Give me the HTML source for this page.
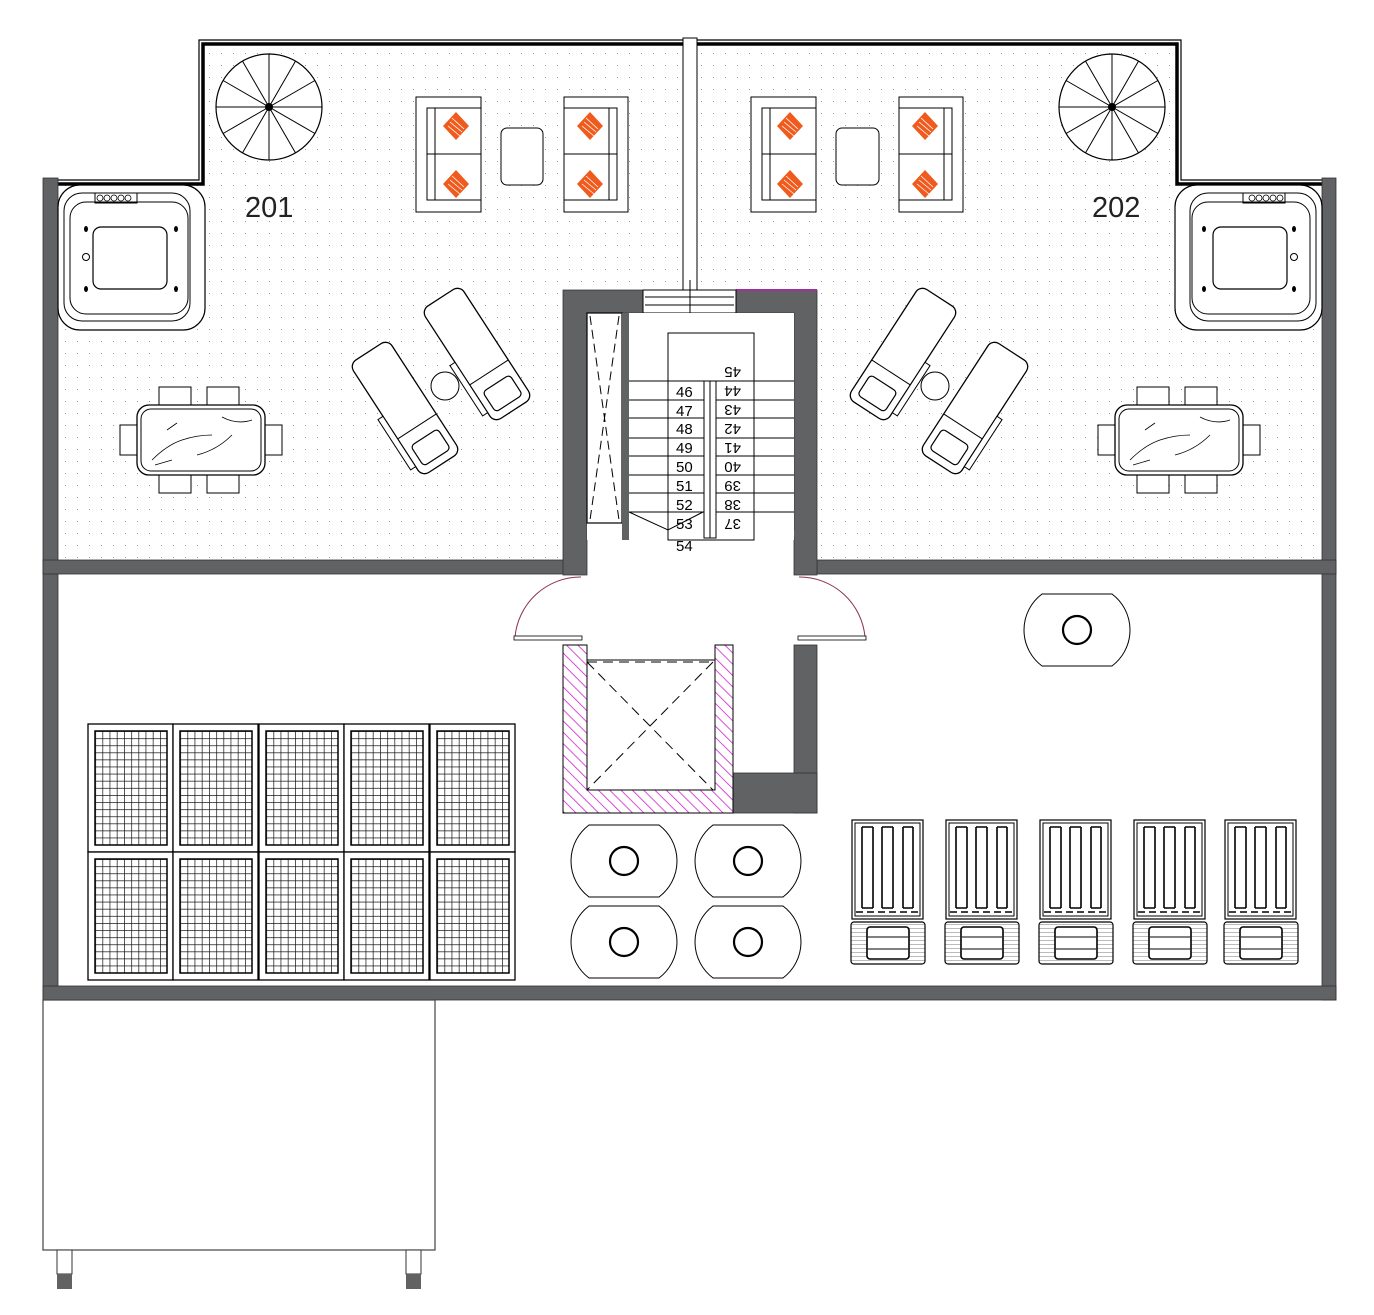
<!DOCTYPE html>
<html><head><meta charset="utf-8"><style>html,body{margin:0;padding:0;background:#fff}svg{display:block}</style></head>
<body>
<svg width="1374" height="1315" viewBox="0 0 1374 1315" xmlns="http://www.w3.org/2000/svg" font-family="Liberation Sans, sans-serif">
<defs>
<pattern id="dots" width="12" height="12" patternUnits="userSpaceOnUse"><rect x="5" y="5" width="1" height="1" fill="#9a9a9a"/></pattern>
<pattern id="hatch" width="8" height="8" patternUnits="userSpaceOnUse" patternTransform="rotate(-45)"><line x1="0" y1="0" x2="0" y2="8" stroke="#d020d0" stroke-width="1.6"/></pattern>
<pattern id="grid" x="0" y="0" width="7.2" height="7.1" patternUnits="userSpaceOnUse"><path d="M0 0H7.2M0 0V7.1" stroke="#111" stroke-width="1.4" fill="none"/></pattern>
<pattern id="hl" width="4" height="4" patternUnits="userSpaceOnUse"><line x1="0" y1="0" x2="4" y2="0" stroke="#555" stroke-width="0.8"/></pattern>
<symbol id="panel" overflow="visible">
 <rect x="0" y="0" width="85" height="128" fill="#fff" stroke="#000" stroke-width="1.3"/>
 <rect x="7" y="7" width="72" height="114" fill="url(#grid)" stroke="#000" stroke-width="1.5"/>
</symbol>
<symbol id="tank" overflow="visible">
 <path d="M-35 -36 H35 A45 45 0 0 1 35 36 H-35 A45 45 0 0 1 -35 -36Z" fill="#fff" stroke="#000" stroke-width="1"/>
 <circle r="14" fill="none" stroke="#000" stroke-width="2.2"/>
</symbol>
<symbol id="chair" overflow="visible">
 <rect x="1" y="0" width="71" height="99" fill="#fff" stroke="#000" stroke-width="1.2"/>
 <rect x="4" y="3" width="65" height="93" fill="none" stroke="#000" stroke-width="1"/>
 <g stroke="#000" stroke-width="1.6" fill="none">
  <path d="M11 7V88M22 7V88M31 7V88M42 7V88M52 7V88M62 7V88M11 7H22M31 7H42M52 7H62M11 88H22M31 88H42M52 88H62"/>
 </g>
 <line x1="5" y1="92" x2="68" y2="92" stroke="#000" stroke-width="1.6" stroke-dasharray="7 4"/>
 <rect x="0" y="102" width="74" height="42" rx="3" fill="url(#hl)" stroke="#000" stroke-width="1.2"/>
 <rect x="16" y="107" width="42" height="32" rx="3" fill="#fff" stroke="#000" stroke-width="1.6"/>
 <path d="M17 117H57M17 129H57" stroke="#000" stroke-width="1"/>
</symbol>
<symbol id="spiral" overflow="visible">
 <circle r="53" fill="#fff" stroke="#000" stroke-width="1.2"/>
 <g stroke="#000" stroke-width="1">
  <line x1="-53" y1="0" x2="53" y2="0"/><line x1="0" y1="-53" x2="0" y2="53"/>
  <line x1="-26.5" y1="-45.9" x2="26.5" y2="45.9"/><line x1="26.5" y1="-45.9" x2="-26.5" y2="45.9"/>
  <line x1="-45.9" y1="-26.5" x2="45.9" y2="26.5"/><line x1="45.9" y1="-26.5" x2="-45.9" y2="26.5"/>
 </g>
 <circle r="4" fill="#000"/>
</symbol>
<symbol id="pillow" overflow="visible">
 <path d="M0 -14 L13 0 L0 14 L-13 0Z" fill="#f05a1c"/>
 <path d="M-6 -4 L6 6 M-4 -8 L8 3 M-8 0 L4 10" stroke="#fff" stroke-width="0.8"/>
</symbol>
<symbol id="lounger" overflow="visible">
 <rect x="-23" y="-67" width="46" height="134" rx="8" fill="#fff" stroke="#000" stroke-width="1.3"/>
 <rect x="-29" y="-5" width="6" height="60" fill="#fff" stroke="#000" stroke-width="1"/>
 <line x1="-23" y1="22" x2="23" y2="22" stroke="#000" stroke-width="1"/>
 <rect x="-16" y="35" width="32" height="24" rx="4" fill="none" stroke="#000" stroke-width="1.2"/>
</symbol>
<symbol id="jac" overflow="visible">
 <rect x="0" y="0" width="147" height="145" rx="22" fill="#fff" stroke="#000" stroke-width="1.2"/>
 <rect x="6" y="8" width="126" height="128" rx="18" fill="none" stroke="#000" stroke-width="1"/>
 <rect x="12" y="17" width="118" height="112" rx="16" fill="none" stroke="#000" stroke-width="1"/>
 <rect x="35" y="42" width="74" height="62" rx="8" fill="none" stroke="#000" stroke-width="1.2"/>
 <rect x="37" y="8" width="42" height="10" fill="none" stroke="#000"/>
 <g fill="none" stroke="#000" stroke-width="0.8"><circle cx="42" cy="13" r="3"/><circle cx="49" cy="13" r="3"/><circle cx="56" cy="13" r="3"/><circle cx="63" cy="13" r="3"/><circle cx="70" cy="13" r="3"/></g>
 <circle cx="28" cy="72" r="3.5" fill="none" stroke="#000"/>
 <g fill="#000"><ellipse cx="28" cy="44" rx="2" ry="3"/><ellipse cx="118" cy="44" rx="2" ry="3"/><ellipse cx="28" cy="104" rx="2" ry="3"/><ellipse cx="118" cy="104" rx="2" ry="3"/></g>
</symbol>
<symbol id="dining" overflow="visible">
 <g fill="#fff" stroke="#000" stroke-width="1">
  <rect x="22" y="-18" width="32" height="18"/><rect x="70" y="-18" width="32" height="18"/>
  <rect x="22" y="70" width="32" height="18"/><rect x="70" y="70" width="32" height="18"/>
  <rect x="-17" y="20" width="17" height="30"/><rect x="128" y="20" width="17" height="30"/>
 </g>
 <rect x="0" y="0" width="128" height="70" rx="12" fill="#fff" stroke="#000" stroke-width="1.3"/>
 <rect x="4" y="4" width="120" height="62" rx="10" fill="none" stroke="#000" stroke-width="1"/>
 <path d="M15 55 Q30 40 45 35 T75 30 M60 50 Q80 45 95 30 M85 12 Q100 20 115 15 M30 25 L40 18 M18 60 L35 55" stroke="#000" fill="none" stroke-width="0.8"/>
</symbol>
</defs>

<rect x="58" y="185" width="507" height="375" fill="url(#dots)"/>
<rect x="205" y="45" width="478" height="245" fill="url(#dots)"/>
<rect x="817" y="185" width="505" height="375" fill="url(#dots)"/>
<rect x="697" y="45" width="479" height="245" fill="url(#dots)"/>

<path d="M43 180 H199 V40 H1181 V180 H1336" fill="none" stroke="#000" stroke-width="1.2"/>
<path d="M58 184 H203 V44 H1177 V184 H1322" fill="none" stroke="#000" stroke-width="3.5"/>
<rect x="683" y="38" width="14" height="252" fill="#fff" stroke="#000" stroke-width="1"/>

<g fill="#616264" stroke="#333" stroke-width="0.8">
 <rect x="43" y="178" width="15" height="822"/>
 <rect x="1322" y="178" width="14" height="822"/>
 <rect x="43" y="986" width="1293" height="14"/>
 <rect x="43" y="560" width="522" height="14"/>
 <rect x="817" y="560" width="519" height="14"/>
 <path d="M563 290 H643 V313 H736 V290 H817 V575 H794 V537 H715 V530 H794 V313 H587 V575 H563Z"/>
 <rect x="794" y="645" width="23" height="168"/>
 <rect x="733" y="773" width="84" height="40"/>
</g>
<line x1="736" y1="290" x2="817" y2="290" stroke="#a030a0" stroke-width="2"/>
<rect x="643" y="290" width="93" height="23" fill="#fff" stroke="#000"/>
<path d="M645 297H734M645 305H734" stroke="#000"/>
<line x1="690" y1="280" x2="690" y2="313" stroke="#000"/>

<rect x="587" y="313" width="207" height="227" fill="#fff"/>
<rect x="587" y="313" width="35" height="210" fill="#fff" stroke="#000" stroke-width="1.2"/>
<path d="M590 316 L619 520 M619 316 L590 520" stroke="#000" stroke-dasharray="9 5"/>
<rect x="622" y="313" width="7" height="227" fill="#616264"/>
<rect x="668" y="333" width="86" height="207" fill="none" stroke="#000"/>
<g stroke="#000" stroke-width="1" fill="none">
 <path d="M629 381H794M629 400H794M629 418H794M629 438H794M629 456H794M629 475H794M629 493H794M629 512H794"/>
 <path d="M629 512 L668 530 L703 512"/>
</g>
<rect x="704" y="381" width="12" height="157" fill="#fff" stroke="#000"/>
<line x1="710" y1="381" x2="710" y2="538" stroke="#000"/>
<g font-size="15" fill="#000">
 <text x="676" y="397">46</text><text x="676" y="416">47</text><text x="676" y="434">48</text><text x="676" y="453">49</text><text x="676" y="472">50</text><text x="676" y="491">51</text><text x="676" y="510">52</text><text x="676" y="529">53</text><text x="676" y="551">54</text>
</g>
<g font-size="15" fill="#000">
 <text transform="translate(741,367) rotate(180)">45</text><text transform="translate(741,386) rotate(180)">44</text><text transform="translate(741,405) rotate(180)">43</text><text transform="translate(741,424) rotate(180)">42</text><text transform="translate(741,443) rotate(180)">41</text><text transform="translate(741,462) rotate(180)">40</text><text transform="translate(741,481) rotate(180)">39</text><text transform="translate(741,500) rotate(180)">38</text><text transform="translate(741,519) rotate(180)">37</text>
</g>

<path d="M515 637 A66 66 0 0 1 581 577" fill="none" stroke="#8a3050" stroke-width="1"/>
<rect x="514" y="636" width="68" height="4" fill="#fff" stroke="#000" stroke-width="0.8"/>
<path d="M865 637 A66 66 0 0 0 799 577" fill="none" stroke="#8a3050" stroke-width="1"/>
<rect x="798" y="636" width="68" height="4" fill="#fff" stroke="#000" stroke-width="0.8"/>

<path d="M563 645 H587 V790 H715 V645 H733 V813 H563Z" fill="url(#hatch)" stroke="#000"/>
<rect x="587" y="660" width="128" height="130" fill="none" stroke="#000"/>
<path d="M587 662 H713 M587 662 L713 790 M713 662 L587 790" stroke="#000" stroke-dasharray="10 6"/>

<use href="#spiral" x="269" y="107"/>
<use href="#spiral" x="1112" y="107"/>

<g fill="#fff" stroke="#000" stroke-width="1">
 <rect x="416" y="97" width="65" height="115"/><rect x="427" y="108" width="54" height="92"/>
 <line x1="427" y1="154" x2="481" y2="154"/><line x1="435" y1="108" x2="435" y2="200"/>
 <rect x="564" y="97" width="64" height="115"/><rect x="564" y="108" width="53" height="92"/>
 <line x1="564" y1="154" x2="617" y2="154"/><line x1="609" y1="108" x2="609" y2="200"/>
 <rect x="501" y="128" width="42" height="57" rx="6"/>
 <rect x="751" y="97" width="65" height="115"/><rect x="762" y="108" width="54" height="92"/>
 <line x1="762" y1="154" x2="816" y2="154"/><line x1="770" y1="108" x2="770" y2="200"/>
 <rect x="899" y="97" width="64" height="115"/><rect x="899" y="108" width="53" height="92"/>
 <line x1="899" y1="154" x2="952" y2="154"/><line x1="944" y1="108" x2="944" y2="200"/>
 <rect x="836" y="128" width="43" height="57" rx="6"/>
</g>
<use href="#pillow" x="456" y="126"/><use href="#pillow" x="456" y="184"/>
<use href="#pillow" x="590" y="126"/><use href="#pillow" x="590" y="184"/>
<use href="#pillow" x="790" y="126"/><use href="#pillow" x="790" y="184"/>
<use href="#pillow" x="925" y="126"/><use href="#pillow" x="925" y="184"/>

<text x="245" y="217" font-size="29" fill="#222">201</text>
<text x="1092" y="217" font-size="29" fill="#222">202</text>

<use href="#jac" x="58" y="185"/>
<g transform="translate(1322,185) scale(-1,1)"><use href="#jac" x="0" y="0"/></g>

<g transform="translate(405,408) rotate(-33)"><use href="#lounger"/></g>
<g transform="translate(477,354) rotate(-33)"><use href="#lounger"/></g>
<circle cx="445" cy="386" r="14" fill="#fff" stroke="#000"/>
<g transform="translate(975,408) rotate(33) scale(-1,1)"><use href="#lounger"/></g>
<g transform="translate(903,354) rotate(33) scale(-1,1)"><use href="#lounger"/></g>
<circle cx="935" cy="386" r="14" fill="#fff" stroke="#000"/>

<use href="#dining" x="137" y="405"/>
<use href="#dining" x="1115" y="405"/>

<g>
 <use href="#panel" x="88" y="724"/><use href="#panel" x="173" y="724"/><use href="#panel" x="259" y="724"/><use href="#panel" x="344" y="724"/><use href="#panel" x="430" y="724"/>
 <use href="#panel" x="88" y="852"/><use href="#panel" x="173" y="852"/><use href="#panel" x="259" y="852"/><use href="#panel" x="344" y="852"/><use href="#panel" x="430" y="852"/>
</g>

<use href="#tank" x="624" y="861"/><use href="#tank" x="748" y="861"/>
<use href="#tank" x="624" y="942"/><use href="#tank" x="748" y="942"/>
<use href="#tank" x="1077" y="630"/>

<use href="#chair" x="851" y="820"/><use href="#chair" x="945" y="820"/><use href="#chair" x="1039" y="820"/><use href="#chair" x="1133" y="820"/><use href="#chair" x="1224" y="820"/>

<rect x="43" y="1000" width="392" height="250" fill="#fff" stroke="#444" stroke-width="1.2"/>
<rect x="57" y="1250" width="15" height="24" fill="#fff" stroke="#333"/>
<rect x="57" y="1274" width="15" height="15" fill="#616264"/>
<rect x="406" y="1250" width="15" height="24" fill="#fff" stroke="#333"/>
<rect x="406" y="1274" width="15" height="15" fill="#616264"/>
</svg>
</body></html>
